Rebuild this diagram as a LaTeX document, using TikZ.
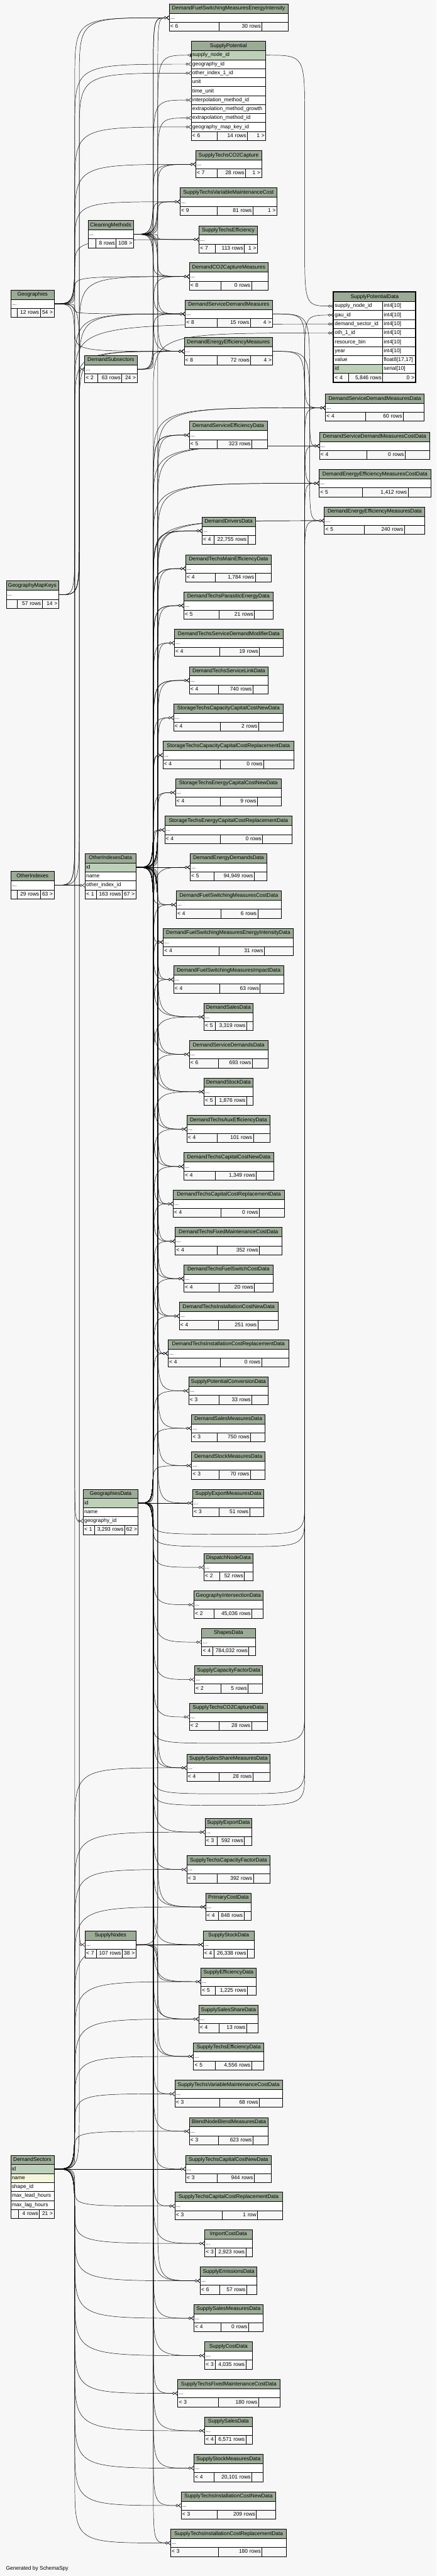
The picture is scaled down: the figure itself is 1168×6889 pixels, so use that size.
\documentclass[tikz,border=0pt]{standalone}
\usepackage{fontspec}
\setmainfont{Liberation Sans}
\usetikzlibrary{arrows.meta,calc}
\definecolor{hdrc}{HTML}{9BAB96}
\definecolor{pkc}{HTML}{BED1B8}
\definecolor{idxc}{HTML}{F4F7DA}
\definecolor{bgc}{HTML}{F7F7F7}
\pgfdeclarelayer{bgl}\pgfdeclarelayer{edl}\pgfsetlayers{bgl,edl,main}
\newcommand\tabfont{\fontsize{14.2}{16}\selectfont}
\tikzset{
 hd/.style={draw=black,line width=1.1pt,fill=hdrc,anchor=north west,minimum height=25pt,inner xsep=3pt,inner ysep=0pt,align=center,font=\tabfont,text height=10.5pt,text depth=3pt},
 rw/.style={draw=black,line width=1.1pt,anchor=north west,minimum height=24pt,inner xsep=3pt,inner ysep=0pt,align=left,font=\tabfont,text height=10.5pt,text depth=3pt},
 ft/.style={rw,fill=bgc},
 fkl/.style={draw=black,line width=0.8pt,-{Circle[fill=white,length=7pt,width=7pt] Straight Barb[reversed,length=6pt,width=10pt]}},
 fkone/.style={draw=black,line width=0.8pt,-{Circle[fill=white,length=7pt,width=7pt] Bar[width=10pt]}},
}
\newcommand\thead[5]{\pgfmathsetmacro\tw{#3-#2-6}\node[hd,text width=\tw pt] (#1) at (#2,#4) {#5};}
\newcommand\trow[6]{\pgfmathsetmacro\tw{#3-#2-6}\node[rw,fill=#5,text width=\tw pt] (#1) at (#2,#4) {#6};}
\def\footr#1#2#3#4#5/#6/#7/#8/#9/{%
 \pgfmathsetmacro\twa{#5-#2-6}\pgfmathsetmacro\twb{#6-#5-6}\pgfmathsetmacro\twc{#3-#6-6}%
 \node[ft,text width=\twa pt] (#1-fl) at (#2,#4) {#7};%
 \node[ft,align=right,text width=\twb pt] (#1-fm) at (#5,#4) {#8};%
 \node[ft,align=right,text width=\twc pt] (#1-fr) at (#6,#4) {#9};}
\newcommand\stab[7]{\thead{#1}{#2}{#3}{#4}{#5}\trow{#1-r}{#2}{#3}{#4+25}{white}{...}\footr{#1}{#2}{#3}{#4+49}#6/#7/}
\newcommand\fk[4][fkl]{\draw[#1] let \p1=(#2),\p2=(#3),\n1={min(170pt,abs(\y2-\y1)/2.2)} in (#2) .. controls (#4 |- #2) .. ($(#4 |- #2)!\n1!(#4 |- #3)$) -- ($(#4 |- #3)!\n1!(#4 |- #2)$) .. controls (#4 |- #3) .. (#3);}
\newcommand\fkU[3]{\draw[fkl] let \p1=(#1),\p2=(#3),\n1={min(60pt,abs(\y2-\y1)/2.2)} in (#1) .. controls (busM |- #1) .. ($(busM |- #1)!\n1!(busM |- #3)$) -- ($(busM |- #3)!\n1!(busM |- #1)$) .. controls (busM |- #3) .. (#3) .. controls (busR |- #3) .. ($(busR |- #3)!90pt!(busR |- #2)$) -- ($(busR |- #2)!120pt!(busR |- #3)$) .. controls (busR |- #2) .. (#2);}
\newcommand\cmcm[1]{\fk{cm-r.east}{#1-r.west}{busM}\fk{cm-r.east}{#1-r.west}{busMb}}
\newcommand\gdoo[1]{\fk{gd-a.east}{#1-r.west}{busM}\fk{oid-a.east}{#1-r.west}{busM}\fk{oid-a.east}{#1-r.west}{busMb}}
\newcommand\gdo[1]{\fk{gd-a.east}{#1-r.west}{busM}\fk{oid-a.east}{#1-r.west}{busMb}}
\newcommand\gdonly[1]{\fk{gd-a.east}{#1-r.west}{busM}}
\newcommand\dsgd[1]{\fk{ds-a.east}{#1-r.west}{busL}\fk{gd-a.east}{#1-r.west}{busM}}
\begin{document}
\begin{tikzpicture}[x=1pt,y=-1pt]
\useasboundingbox (0,0) rectangle (1168,6889);
\coordinate (busL) at (200,0);
\coordinate (busLb) at (212,0);
\coordinate (busM) at (410,0);
\coordinate (busMb) at (422,0);
\coordinate (busR) at (815,0);
\coordinate (busRb) at (828,0);
\coordinate (ubA) at (640,4103);
\coordinate (ubB) at (640,4136);
\coordinate (ubC) at (618,4662);
\coordinate (ubD) at (618,4797);
\coordinate (ubE) at (618,4828);
% ---------- tables ----------
\stab{dfsmei}{452}{770}{10}{DemandFuelSwitchingMeasuresEnergyIntensity}{586/700}{< 6/30 rows/}
\thead{sp}{511}{710}{110}{SupplyPotential}
\trow{sp-a}{511}{710}{135}{pkc}{supply\_node\_id}
\trow{sp-b}{511}{710}{159}{white}{geography\_id}
\trow{sp-c}{511}{710}{183}{white}{other\_index\_1\_id}
\trow{sp-d}{511}{710}{207}{white}{unit}
\trow{sp-e}{511}{710}{231}{white}{time\_unit}
\trow{sp-f}{511}{710}{255}{white}{interpolation\_method\_id}
\trow{sp-g}{511}{710}{279}{white}{extrapolation\_method\_growth}
\trow{sp-h}{511}{710}{303}{white}{extrapolation\_method\_id}
\trow{sp-i}{511}{710}{327}{white}{geography\_map\_key\_id}
\footr{sp}{511}{710}{351}580/661/< 6/14 rows/1 >/
\stab{stcoc}{523}{699}{402}{SupplyTechsCO2Capture}{580/656}{< 7/28 rows/1 >}
\stab{stvmc}{481}{740}{502}{SupplyTechsVariableMaintenanceCost}{580/676}{< 9/81 rows/1 >}
\stab{cm}{235}{356}{589}{CleaningMethods}{255/310}{/8 rows/108 >}
\stab{ste}{532}{688}{603}{SupplyTechsEfficiency}{575/653}{< 7/113 rows/1 >}
\stab{dcm}{506}{717}{702}{DemandCO2CaptureMeasures}{591/672}{< 8/0 rows/}
\stab{geo}{29}{144}{775}{Geographies}{45/107}{/12 rows/54 >}
\stab{dsdm}{495}{728}{802}{DemandServiceDemandMeasures}{580/669}{< 8/15 rows/4 >}
\stab{deem}{492}{729}{902}{DemandEnergyEfficiencyMeasures}{580/670}{< 8/72 rows/4 >}
\stab{dsub}{226}{366}{950}{DemandSubsectors}{260/325}{< 2/63 rows/24 >}
% focal table
\thead{spd}{892}{1111}{781}{SupplyPotentialData}
\trow{spd-a}{892}{1023}{806}{white}{supply\_node\_id}\trow{spd-at}{1023}{1111}{806}{white}{int4[10]}
\trow{spd-b}{892}{1023}{830}{white}{gau\_id}\trow{spd-bt}{1023}{1111}{830}{white}{int4[10]}
\trow{spd-c}{892}{1023}{854}{white}{demand\_sector\_id}\trow{spd-ct}{1023}{1111}{854}{white}{int4[10]}
\trow{spd-d}{892}{1023}{878}{white}{oth\_1\_id}\trow{spd-dt}{1023}{1111}{878}{white}{int4[10]}
\trow{spd-e}{892}{1023}{902}{white}{resource\_bin}\trow{spd-et}{1023}{1111}{902}{white}{int4[10]}
\trow{spd-f}{892}{1023}{926}{white}{year}\trow{spd-ft}{1023}{1111}{926}{white}{int4[10]}
\trow{spd-g}{892}{1023}{950}{white}{value}\trow{spd-gt}{1023}{1111}{950}{white}{float8[17,17]}
\trow{spd-h}{892}{1023}{974}{pkc}{id}\trow{spd-ht}{1023}{1111}{974}{white}{serial[10]}
\footr{spd}{892}{1111}{998}932/1023/< 4/5,846 rows/0 >/
\draw[line width=3pt] (spd.north west) rectangle (spd-fr.south east);
\stab{dsdmd}{870}{1134}{1053}{DemandServiceDemandMeasuresData}{978/1078}{< 4/60 rows/}
\stab{dsed}{506}{714}{1126}{DemandServiceEfficiencyData}{581/673}{< 5/323 rows/}
\stab{dsdmcd}{854}{1149}{1155}{DemandServiceDemandMeasuresCostData}{981/1083}{< 4/0 rows/}
\stab{deemcd}{853}{1152}{1255}{DemandEnergyEfficiencyMeasuresCostData}{968/1091}{< 5/1,412 rows/}
\stab{deemd}{867}{1136}{1355}{DemandEnergyEfficiencyMeasuresData}{973/1081}{< 5/240 rows/}
\stab{ddd}{540}{682}{1382}{DemandDriversData}{572/662}{< 4/22,755 rows/}
\stab{dtmed}{496}{725}{1483}{DemandTechsMainEfficiencyData}{576/682}{< 4/1,784 rows/}
\stab{gmk}{16}{156}{1553}{GeographyMapKeys}{45/112}{/57 rows/14 >}
\stab{dtped}{491}{730}{1582}{DemandTechsParasiticEnergyData}{585/680}{< 5/21 rows/}
\stab{dtsdmd}{466}{757}{1682}{DemandTechsServiceDemandModifierData}{587/693}{< 4/19 rows/}
\stab{dtsld}{506}{717}{1782}{DemandTechsServiceLinkData}{583/676}{< 4/740 rows/}
\stab{stcccnd}{464}{757}{1882}{StorageTechsCapacityCapitalCostNewData}{588/691}{< 4/2 rows/}
\stab{stcccrd}{435}{786}{1982}{StorageTechsCapacityCapitalCostReplacementData}{588/705}{< 4/0 rows/}
\stab{stecnd}{469}{752}{2082}{StorageTechsEnergyCapitalCostNewData}{588/688}{< 4/9 rows/}
\stab{stecrd}{440}{781}{2182}{StorageTechsEnergyCapitalCostReplacementData}{588/702}{< 4/0 rows/}
\thead{oid}{227}{363}{2282}{OtherIndexesData}
\trow{oid-a}{227}{363}{2307}{pkc}{id}
\trow{oid-b}{227}{363}{2331}{white}{name}
\trow{oid-c}{227}{363}{2355}{white}{other\_index\_id}
\footr{oid}{227}{363}{2379}257/326/< 1/163 rows/67 >/
\stab{dedd}{508}{713}{2282}{DemandEnergyDemandsData}{572/679}{< 5/94,949 rows/}
\stab{oi}{29}{144}{2330}{OtherIndexes}{45/107}{/29 rows/63 >}
\stab{dfsmcd}{471}{752}{2382}{DemandFuelSwitchingMeasuresCostData}{591/689}{< 4/6 rows/}
\stab{dfsmeid}{436}{784}{2482}{DemandFuelSwitchingMeasuresEnergyIntensityData}{585/706}{< 4/31 rows/}
\stab{dfsmid}{464}{758}{2582}{DemandFuelSwitchingMeasuresImpactData}{587/695}{< 4/63 rows/}
\stab{dsald}{545}{676}{2682}{DemandSalesData}{576/659}{< 5/3,319 rows/}
\stab{dsdd}{506}{716}{2782}{DemandServiceDemandsData}{583/674}{< 6/693 rows/}
\stab{dstd}{545}{676}{2882}{DemandStockData}{576/659}{< 5/1,876 rows/}
\stab{dtaed}{499}{722}{2982}{DemandTechsAuxEfficiencyData}{581/677}{< 4/101 rows/}
\stab{dtccnd}{491}{732}{3082}{DemandTechsCapitalCostNewData}{576/685}{< 4/1,349 rows/}
\stab{dtccrd}{462}{761}{3182}{DemandTechsCapitalCostReplacementData}{591/693}{< 4/0 rows/}
\stab{dtfmcd}{468}{753}{3282}{DemandTechsFixedMaintenanceCostData}{581/693}{< 4/352 rows/}
\stab{dtfscd}{491}{730}{3382}{DemandTechsFuelSwitchCostData}{585/680}{< 4/20 rows/}
\stab{dticnd}{479}{743}{3482}{DemandTechsInstallationCostNewData}{583/689}{< 4/251 rows/}
\stab{dticrd}{449}{772}{3582}{DemandTechsInstallationCostReplacementData}{588/699}{< 4/0 rows/}
\stab{spcd}{504}{717}{3682}{SupplyPotentialConversionData}{585/673}{< 3/33 rows/}
\stab{dsmd}{512}{708}{3782}{DemandSalesMeasuresData}{581/670}{< 3/750 rows/}
\stab{dstmd}{512}{708}{3882}{DemandStockMeasuresData}{585/669}{< 3/70 rows/}
\thead{gd}{222}{369}{3982}{GeographiesData}
\trow{gd-a}{222}{369}{4007}{pkc}{id}
\trow{gd-b}{222}{369}{4031}{white}{name}
\trow{gd-c}{222}{369}{4055}{white}{geography\_id}
\footr{gd}{222}{369}{4079}252/333/< 1/3,293 rows/62 >/
\stab{semd}{515}{705}{3982}{SupplyExportMeasuresData}{585/667}{< 3/51 rows/}
\stab{dnd}{545}{676}{4154}{DispatchNodeData}{587/653}{< 2/52 rows/}
\stab{gid}{518}{703}{4254}{GeographyIntersectionData}{572/673}{< 2/45,036 rows/}
\stab{shd}{539}{682}{4354}{ShapesData}{568/665}{< 4/784,032 rows/}
\stab{scfd}{520}{702}{4454}{SupplyCapacityFactorData}{591/663}{< 2/5 rows/}
\stab{stcocd}{506}{714}{4554}{SupplyTechsCO2CaptureData}{585/672}{< 2/28 rows/}
\stab{sssmd}{499}{722}{4690}{SupplySalesShareMeasuresData}{585/676}{< 4/28 rows/}
\stab{sexd}{548}{673}{4862}{SupplyExportData}{581/653}{< 3/592 rows/}
\stab{stcfd}{499}{722}{4962}{SupplyTechsCapacityFactorData}{581/677}{< 3/392 rows/}
\stab{pcd}{550}{671}{5062}{PrimaryCostData}{583/652}{< 4/848 rows/}
\stab{sn}{227}{363}{5163}{SupplyNodes}{257/326}{< 7/107 rows/38 >}
\stab{ssd}{543}{679}{5163}{SupplyStockData}{572/661}{< 4/26,338 rows/}
\stab{sed}{537}{684}{5262}{SupplyEfficiencyData}{576/661}{< 5/1,225 rows/}
\stab{sssd}{531}{690}{5362}{SupplySalesShareData}{585/659}{< 4/13 rows/}
\stab{sted}{517}{705}{5462}{SupplyTechsEfficiencyData}{576/672}{< 5/4,556 rows/}
\stab{stvmcd}{467}{755}{5562}{SupplyTechsVariableMaintenanceCostData}{587/693}{< 3/68 rows/}
\stab{bnbmd}{506}{717}{5662}{BlendNodeBlendMeasuresData}{583/676}{< 3/623 rows/}
\thead{ds}{28}{144}{5763}{DemandSectors}
\trow{ds-a}{28}{144}{5788}{pkc}{id}
\trow{ds-b}{28}{144}{5812}{idxc}{name}
\trow{ds-c}{28}{144}{5836}{white}{shape\_id}
\trow{ds-d}{28}{144}{5860}{white}{max\_lead\_hours}
\trow{ds-e}{28}{144}{5884}{white}{max\_lag\_hours}
\footr{ds}{28}{144}{5908}48/105//4 rows/21 >/
\stab{stccnd}{496}{725}{5763}{SupplyTechsCapitalCostNewData}{581/679}{< 3/944 rows/}
\stab{stccrd}{467}{755}{5862}{SupplyTechsCapitalCostReplacementData}{593/688}{< 3/1 row/}
\stab{icd}{547}{674}{5962}{ImportCostData}{576/657}{< 3/2,923 rows/}
\stab{semi}{535}{687}{6062}{SupplyEmissionsData}{587/659}{< 6/57 rows/}
\stab{ssmd}{518}{703}{6162}{SupplySalesMeasuresData}{591/664}{< 4/0 rows/}
\stab{scd}{547}{674}{6262}{SupplyCostData}{576/657}{< 3/4,035 rows/}
\stab{stfmcd}{475}{748}{6363}{SupplyTechsFixedMaintenanceCostData}{583/691}{< 3/180 rows/}
\stab{ssald}{547}{674}{6463}{SupplySalesData}{576/657}{< 4/6,571 rows/}
\stab{sstmd}{518}{703}{6563}{SupplyStockMeasuresData}{572/673}{< 4/20,101 rows/}
\stab{sticnd}{484}{737}{6663}{SupplyTechsInstallationCostNewData}{581/685}{< 3/209 rows/}
\stab{sticrd}{456}{766}{6763}{SupplyTechsInstallationCostReplacementData}{583/700}{< 3/180 rows/}
\node[anchor=west,font=\tabfont,inner sep=0pt] (gen) at (16,6870) {Generated by SchemaSpy};
% ---------- connectors ----------
\begin{pgfonlayer}{edl}
\fk{geo-r.east}{dfsmei-r.west}{busL}
\fk{gmk-r.east}{dfsmei-r.west}{busLb}
\cmcm{dfsmei}
\fk{dsub-r.east}{dfsmei-r.west}{busM}
\fk[fkone]{sn-r.east}{sp-a.west}{busMb}
\fk{geo-r.east}{sp-b.west}{busL}
\fk{oi-r.east}{sp-c.west}{busLb}
\fk{cm-r.east}{sp-f.west}{busM}
\fk{cm-r.east}{sp-h.west}{busMb}
\fk{gmk-r.east}{sp-i.west}{busL}
\cmcm{stcoc}\fk{geo-r.east}{stcoc-r.west}{busL}
\cmcm{stvmc}\fk{geo-r.east}{stvmc-r.west}{busL}
\cmcm{ste}\fk{geo-r.east}{ste-r.west}{busL}
\cmcm{dcm}\fk{geo-r.east}{dcm-r.west}{busL}\fk{dsub-r.east}{dcm-r.west}{busM}\fk{gmk-r.east}{dcm-r.west}{busLb}
\cmcm{dsdm}\fk{geo-r.east}{dsdm-r.west}{busL}\fk{dsub-r.east}{dsdm-r.west}{busM}\fk{gmk-r.east}{dsdm-r.west}{busLb}\fk{oi-r.east}{dsdm-r.west}{busL}
\cmcm{deem}\fk{geo-r.east}{deem-r.west}{busL}\fk{dsub-r.east}{deem-r.west}{busM}\fk{gmk-r.east}{deem-r.west}{busLb}\fk{oi-r.east}{deem-r.west}{busL}
% focal
\fk{sp-a.east}{spd-a.west}{busR}
\fkU{gd-a.east}{spd-b.west}{ubE}
\fk{ds-a.east}{spd-c.west}{busL}
\fk{oid-a.east}{spd-d.west}{busM}
% right group
\fk{dsdm-r.east}{dsdmd-r.west}{busR}\fkU{gd-a.east}{dsdmd-r.west}{ubA}\fk{oid-a.east}{dsdmd-r.west}{busM}\fk{oid-a.east}{dsdmd-r.west}{busMb}
\fk{dsdm-r.east}{dsdmcd-r.west}{busRb}\fkU{gd-a.east}{dsdmcd-r.west}{ubB}\fk{oid-a.east}{dsdmcd-r.west}{busM}\fk{oid-a.east}{dsdmcd-r.west}{busMb}
\fk{deem-r.east}{deemcd-r.west}{busR}\fkU{gd-a.east}{deemcd-r.west}{ubC}\fk{oid-a.east}{deemcd-r.west}{busM}\fk{oid-a.east}{deemcd-r.west}{busMb}
\fk{deem-r.east}{deemd-r.west}{busRb}\fkU{gd-a.east}{deemd-r.west}{ubD}\fk{oid-a.east}{deemd-r.west}{busM}\fk{oid-a.east}{deemd-r.west}{busMb}
% middle group
\gdoo{dsed}\gdoo{ddd}\gdoo{dtmed}\gdoo{dtped}\gdo{dtsdmd}\gdoo{dtsld}\gdo{stcccnd}\gdoo{stcccrd}\gdo{stecnd}\gdoo{stecrd}
\gdoo{dedd}\gdoo{dfsmcd}\gdoo{dfsmeid}\gdoo{dfsmid}\gdoo{dsald}\gdoo{dsdd}\gdoo{dstd}\gdoo{dtaed}\gdoo{dtccnd}\gdoo{dtccrd}
\gdoo{dtfmcd}\gdoo{dtfscd}\gdoo{dticnd}\gdoo{dticrd}\gdo{spcd}\gdo{dsmd}\gdo{dstmd}
\draw[fkl] (gd-a.east) -- (semd-r.west);
\fk{oid-a.east}{semd-r.west}{busMb}
\gdonly{dnd}\gdonly{gid}\gdonly{shd}\gdonly{scfd}\gdonly{stcocd}
\dsgd{sssmd}\fk{oid-a.east}{sssmd-r.west}{busMb}
\dsgd{sexd}\dsgd{stcfd}
\dsgd{pcd}\fk{oid-a.east}{pcd-r.west}{busMb}
% lower group
\draw[fkl] (sn-r.east) -- (ssd-r.west);
\dsgd{ssd}
\fk{sn-r.east}{sed-r.west}{busMb}\dsgd{sed}
\fk{sn-r.east}{sssd-r.west}{busMb}\dsgd{sssd}
\fk{sn-r.east}{sted-r.west}{busMb}\dsgd{sted}
\dsgd{stvmcd}\dsgd{bnbmd}
\draw[fkl] (ds-a.east) -- (stccnd-r.west);
\gdonly{stccnd}
\dsgd{stccrd}\dsgd{icd}
\dsgd{semi}\fk{oid-a.east}{semi-r.west}{busMb}
\dsgd{ssmd}\dsgd{scd}\dsgd{stfmcd}\dsgd{ssald}\dsgd{sstmd}\dsgd{sticnd}\dsgd{sticrd}
% parent to parent
\draw[fkl] (oi-r.east) -- (oid-c.west);
\fk{geo-r.east}{gd-c.west}{busL}
\fk{ds-a.east}{dsub-r.west}{busLb}
\fk{geo-r.east}{sn-r.west}{busLb}
\end{pgfonlayer}
\begin{pgfonlayer}{bgl}
\fill[bgc] (0,0) rectangle (1168,6889);
\end{pgfonlayer}
\end{tikzpicture}
\end{document}
